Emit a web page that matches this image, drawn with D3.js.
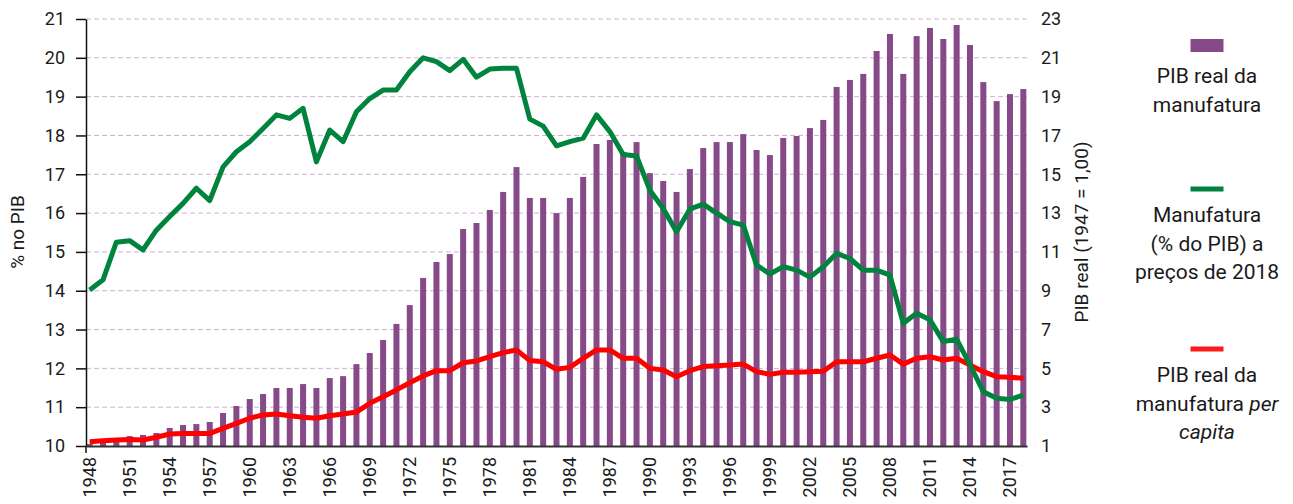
<!DOCTYPE html>
<html>
<head>
<meta charset="utf-8">
<script src="https://cdnjs.cloudflare.com/ajax/libs/d3/7.8.5/d3.min.js"></script>
<style>
  body { margin: 0; background: #fff; }
  svg text { font-family: Roboto, "Noto Sans", sans-serif; fill: #1a1a1a; }
  .grid line { stroke: #d2b0d2; stroke-dasharray: 5,3; }
</style>
</head>
<body>
<svg id="chart" width="1293" height="504"></svg>
<script>
// categories
const years = d3.range(1948, 2019);
const yearTicks = [1948, 1951, 1954, 1957, 1960, 1963, 1966, 1969, 1972, 1975, 1978, 1981, 1984,
  1987, 1990, 1993, 1996, 1999, 2002, 2005, 2008, 2011, 2014, 2017];
const leftTicks = [10, 11, 12, 13, 14, 15, 16, 17, 18, 19, 20, 21];
const rightTicks = [1, 3, 5, 7, 9, 11, 13, 15, 17, 19, 21, 23];

// PIB real da manufatura (1947 = 1,00) - bars, right axis
const pibReal = [1.10, 1.20, 1.30, 1.51, 1.57, 1.67, 1.93, 2.08, 2.13, 2.24,
  2.70, 3.06, 3.42, 3.68, 3.99, 3.99, 4.19, 3.99, 4.50, 4.60,
  5.22, 5.79, 6.46, 7.29, 8.26, 9.66, 10.48, 10.89, 12.18, 12.49,
  13.16, 14.09, 15.37, 13.78, 13.78, 13.00, 13.78, 14.86, 16.56, 16.77,
  16.15, 16.66, 15.06, 14.65, 14.09, 15.27, 16.35, 16.66, 16.66, 17.07,
  16.25, 15.99, 16.87, 16.97, 17.38, 17.80, 19.50, 19.86, 20.17, 21.35,
  22.23, 20.17, 22.12, 22.54, 21.97, 22.69, 21.66, 19.75, 18.77, 19.13,
  19.39];

// Manufatura (% do PIB) a precos de 2018 - left axis
const manufShare = [14.02, 14.28, 15.25, 15.29, 15.05, 15.56, 15.91, 16.25, 16.64, 16.32,
  17.19, 17.58, 17.84, 18.18, 18.53, 18.44, 18.70, 17.32, 18.14, 17.84,
  18.61, 18.95, 19.17, 19.17, 19.64, 20.00, 19.90, 19.67, 19.96, 19.50,
  19.71, 19.73, 19.73, 18.42, 18.24, 17.73, 17.84, 17.93, 18.53, 18.10,
  17.51, 17.47, 16.59, 16.12, 15.52, 16.10, 16.23, 16.00, 15.78, 15.69,
  14.66, 14.43, 14.62, 14.53, 14.35, 14.62, 14.96, 14.83, 14.53, 14.53,
  14.40, 13.16, 13.42, 13.25, 12.69, 12.75, 12.09, 11.40, 11.23, 11.20,
  11.31];

// PIB real da manufatura per capita - right axis
const pibPerCapita = [1.22, 1.27, 1.31, 1.33, 1.31, 1.45, 1.62, 1.65, 1.65, 1.65,
  1.91, 2.17, 2.43, 2.60, 2.65, 2.56, 2.48, 2.43, 2.56, 2.65,
  2.75, 3.20, 3.54, 3.89, 4.26, 4.61, 4.88, 4.88, 5.29, 5.38,
  5.60, 5.81, 5.95, 5.40, 5.34, 4.95, 5.05, 5.52, 5.95, 5.95,
  5.52, 5.52, 5.00, 4.92, 4.57, 4.88, 5.09, 5.14, 5.17, 5.22,
  4.83, 4.69, 4.80, 4.80, 4.82, 4.85, 5.34, 5.34, 5.34, 5.52,
  5.69, 5.22, 5.52, 5.60, 5.43, 5.52, 5.17, 4.83, 4.57, 4.54,
  4.49];

const legendItems = [
  {type: 'bar', color: '#874a88', lines: [['PIB real da'], ['manufatura']]},
  {type: 'line', color: '#00843d', lines: [['Manufatura'], ['(% do PIB) a'], ['preços de 2018']]},
  {type: 'line', color: '#ff1a1a', lines: [['PIB real da'], ['manufatura ', 'per'], ['capita']]}
];

const margin = {top: 19, right: 266, bottom: 58, left: 86};
const width = 1293 - margin.left - margin.right;
const height = 504 - margin.top - margin.bottom;

const svg = d3.select('#chart');
const chart = svg.append('g')
  .attr('transform', `translate(${margin.left}, ${margin.top})`);

const x = d3.scaleBand()
  .domain(years)
  .range([0, width])
  .paddingInner(0.55)
  .paddingOuter(0.05);

const yLeft = d3.scaleLinear().domain([10, 21]).range([height, 0]);
const yRight = d3.scaleLinear().domain([1, 23]).range([height, 0]);

const cx = d => x(d) + x.bandwidth() / 2;

// grid
chart.append('g')
  .attr('class', 'grid')
  .selectAll('line')
  .data(leftTicks.slice(1))
  .join('line')
  .attr('x1', 0)
  .attr('x2', width)
  .attr('y1', d => yLeft(d))
  .attr('y2', d => yLeft(d));

// bars
chart.append('g')
  .selectAll('rect')
  .data(years)
  .join('rect')
  .attr('x', d => x(d))
  .attr('width', x.bandwidth())
  .attr('y', (d, i) => yRight(pibReal[i]))
  .attr('height', (d, i) => height - yRight(pibReal[i]))
  .attr('fill', '#874a88');

// lines
const redLine = d3.line()
  .x((d, i) => cx(years[i]))
  .y(d => yRight(d));

const greenLine = d3.line()
  .x((d, i) => cx(years[i]))
  .y(d => yLeft(d));

chart.append('path')
  .datum(pibPerCapita)
  .attr('d', redLine)
  .attr('fill', 'none')
  .attr('stroke', '#ff0000')
  .attr('stroke-width', 5)
  .attr('stroke-linejoin', 'round');

chart.append('path')
  .datum(manufShare)
  .attr('d', greenLine)
  .attr('fill', 'none')
  .attr('stroke', '#00843d')
  .attr('stroke-width', 5)
  .attr('stroke-linejoin', 'round');

// axes
const axisL = chart.append('g')
  .call(d3.axisLeft(yLeft).tickValues(leftTicks).tickSize(10).tickPadding(11).tickSizeOuter(0));
axisL.select('.domain').attr('stroke', '#111').attr('stroke-width', 1.5);
axisL.selectAll('.tick line').attr('stroke', '#111').attr('stroke-width', 1.5);
axisL.selectAll('text').style('font-size', '18px');
// small extension of the y axis below the baseline
chart.append('line')
  .attr('x1', 0).attr('x2', 0)
  .attr('y1', height).attr('y2', height + 7)
  .attr('stroke', '#111').attr('stroke-width', 1.5);

const axisR = chart.append('g')
  .attr('transform', `translate(${width}, 0)`)
  .call(d3.axisRight(yRight).tickValues(rightTicks).tickSize(0).tickPadding(14));
axisR.select('.domain').remove();
axisR.selectAll('text').style('font-size', '18px');

const axisX = chart.append('g')
  .attr('transform', `translate(0, ${height})`)
  .call(d3.axisBottom(x).tickValues(yearTicks).tickSize(0).tickSizeOuter(0));
axisX.select('.domain').attr('stroke', '#333').attr('stroke-width', 2);
axisX.selectAll('text')
  .style('font-size', '18px')
  .style('text-anchor', 'end')
  .attr('transform', 'rotate(-90)')
  .attr('x', -11)
  .attr('y', 0)
  .attr('dy', '0.36em');

// axis titles
svg.append('text')
  .attr('transform', `translate(24, 232) rotate(-90)`)
  .attr('text-anchor', 'middle')
  .style('font-size', '19px')
  .text('% no PIB');

svg.append('text')
  .attr('transform', `translate(1088, 232) rotate(-90)`)
  .attr('text-anchor', 'middle')
  .style('font-size', '19px')
  .text('PIB real (1947 = 1,00)');

// legend
const legendX = 1207;
const legendTops = [45.5, 189, 349];
legendItems.forEach((item, k) => {
  const g = svg.append('g').attr('transform', `translate(${legendX}, ${legendTops[k]})`);
  if (item.type === 'bar') {
    g.append('rect')
      .attr('x', -16.5).attr('y', -6.5)
      .attr('width', 33).attr('height', 13)
      .attr('fill', item.color);
  } else {
    g.append('line')
      .attr('x1', -16.5).attr('x2', 16.5)
      .attr('stroke', item.color)
      .attr('stroke-width', 5);
  }
  const first = item.type === 'bar' ? 37.5 : 33;
  item.lines.forEach((parts, j) => {
    const t = g.append('text')
      .attr('text-anchor', 'middle')
      .attr('y', first + j * 28.5)
      .style('font-size', '21px');
    parts.forEach((p, pi) => {
      const italic = (k === 2 && (p === 'per' || p === 'capita'));
      t.append('tspan').text(p).style('font-style', italic ? 'italic' : 'normal');
    });
  });
});
</script>
</body>
</html>
